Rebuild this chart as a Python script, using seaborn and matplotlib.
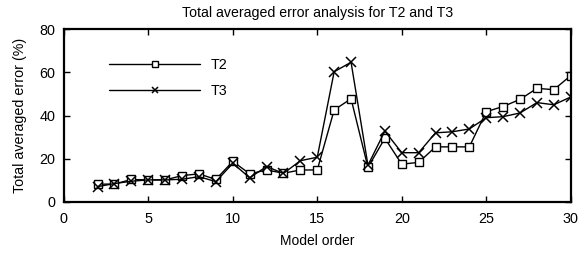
import pandas as pd
import matplotlib
matplotlib.use('Agg')
import matplotlib.pyplot as plt
import seaborn as sns

ordre = list(range(2, 31))
t2 = [8.2, 8.3, 10.4, 10.2, 10.2, 12.2, 13.0, 10.4, 18.8, 13.0, 14.8, 13.3, 14.8, 14.8,
      42.6, 47.8, 16.0, 29.5, 17.5, 18.3, 25.5, 25.5, 25.5, 41.8, 44.2, 47.5, 52.6, 52.0, 58.5]
t3 = [7.1, 8.5, 9.6, 10.2, 10.2, 10.5, 11.7, 9.4, 17.9, 11.2, 16.4, 13.2, 19.1, 20.7,
      60.3, 64.7, 17.0, 32.8, 22.8, 22.8, 32.0, 32.5, 33.8, 39.0, 39.5, 41.2, 46.0, 45.0, 48.6]

df = pd.DataFrame({'ordre': ordre + ordre,
                   'erreur': t2 + t3,
                   'serie': ['T2'] * len(ordre) + ['T3'] * len(ordre)})

sns.set_style('ticks')
plt.rcParams['font.family'] = ['Liberation Sans', 'DejaVu Sans']
for k in ['text.color', 'axes.labelcolor', 'xtick.color', 'ytick.color', 'axes.edgecolor']:
    plt.rcParams[k] = 'black'

fig = plt.figure(figsize=(5.8, 2.54), dpi=100)
ax = fig.add_axes([0.110, 0.205, 0.874, 0.680])

sns.lineplot(data=df[df['serie'] == 'T2'], x='ordre', y='erreur', ax=ax,
             color='black', linewidth=1, marker='s', markersize=6,
             markerfacecolor='white', markeredgecolor='black', markeredgewidth=1,
             label='T2')
sns.lineplot(data=df[df['serie'] == 'T3'], x='ordre', y='erreur', ax=ax,
             color='black', linewidth=1, marker='x', markersize=7,
             markeredgecolor='black', markeredgewidth=1.1, label='T3')

ax.set_xlim(0, 30)
ax.set_ylim(0, 80)
ax.set_xticks(range(0, 31, 5))
ax.set_yticks(range(0, 81, 20))
ax.tick_params(direction='in', top=True, right=True, length=4, width=1,
               labelsize=10.4)
ax.tick_params(axis='x', pad=7)
ax.tick_params(axis='y', pad=6)
for s in ax.spines.values():
    s.set_linewidth(1.6)
    s.set_visible(True)

ax.set_title('Total averaged error analysis for T2 and T3', fontsize=10.2, pad=9)
ax.set_xlabel('Model order', fontsize=10, labelpad=6)
ax.set_ylabel('Total averaged error (%)', fontsize=10.3, labelpad=9)

ax.legend(loc='upper left', bbox_to_anchor=(0.089, 0.835), frameon=False,
          borderpad=0, borderaxespad=0, handlelength=6.4, handletextpad=0.7,
          fontsize=10.3, labelspacing=0.85, markerscale=0.7)

fig.savefig('out.png', dpi=100)
